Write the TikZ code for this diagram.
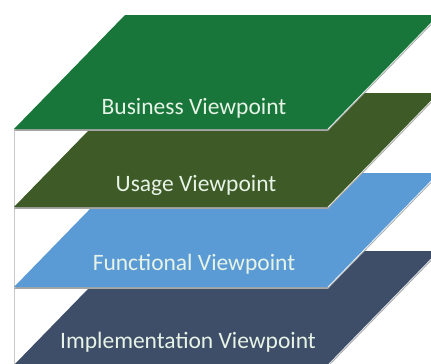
\documentclass[tikz,border=0pt]{standalone}
\usepackage{fontspec}
\setmainfont{Carlito}
\definecolor{busG}{HTML}{18763A}
\definecolor{useG}{HTML}{3D5A27}
\definecolor{funB}{HTML}{5B9BD5}
\definecolor{impS}{HTML}{3F4E68}
\definecolor{txtC}{HTML}{E6F3E6}
\definecolor{boxL}{HTML}{C8C8C8}
\begin{document}
\begin{tikzpicture}[x=1pt,y=-1pt,
  lbl/.style={text=txtC, font=\fontsize{23.5}{26}\selectfont, inner sep=0pt}]
\useasboundingbox (0,0) rectangle (431,364);
\fill[white] (0,0) rectangle (431,364);
% box lines
\draw[boxL, line width=0.8pt] (14,129) -- (14,364);
\draw[boxL!70, line width=0.6pt] (328,129) -- (328,364);
% layers, back to front
\foreach \b/\c/\n in {365/impS/imp, 287/funB/fun, 207/useG/use, 129/busG/bus}{
  \fill[gray!70] (14,\b+1.8) -- (328,\b+1.8) -- (439,\b-112.2) -- (125,\b-112.2) -- cycle;
  \fill[\c] (14,\b) coordinate (\n bl) -- (328,\b) coordinate (\n br) -- (439,\b-114) coordinate (\n tr) -- (125,\b-114) coordinate (\n tl) -- cycle;
  \draw[white!85!\c, line width=0.8pt] (\n br) -- (\n tr);
}
\node[lbl] (business) at (194,108) {Business Viewpoint};
\node[lbl] (usage) at (196,185) {Usage Viewpoint};
\node[lbl] (functional) at (194,264) {Functional Viewpoint};
\node[lbl] (implementation) at (188,342) {Implementation Viewpoint};
\end{tikzpicture}
\end{document}
